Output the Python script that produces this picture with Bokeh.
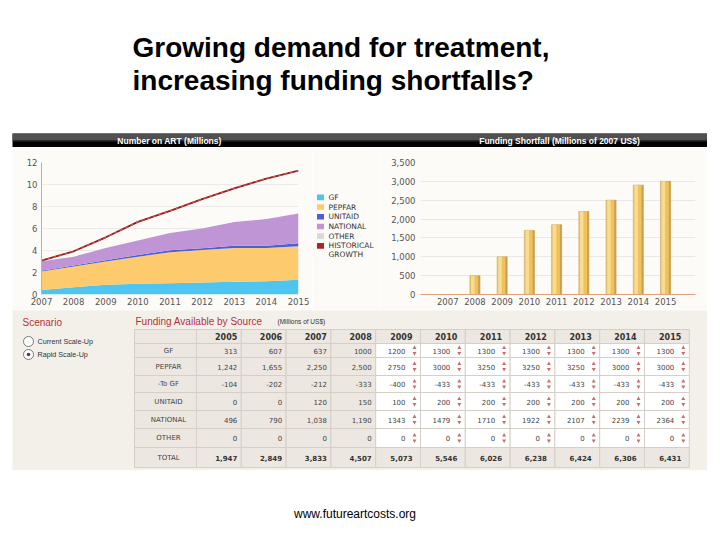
import numpy as np
from bokeh.plotting import figure
from bokeh.layouts import column, row
from bokeh.models import Range1d, FixedTicker, NumeralTickFormatter, Spacer
from bokeh.core.properties import value
from bokeh.embed import file_html
from bokeh.resources import INLINE

# ---------------- data ----------------
title_lines = ["Growing demand for treatment,", "increasing funding shortfalls?"]
art_title = "Number on ART (Millions)"
shortfall_title = "Funding Shortfall (Millions of 2007 US$)"
footer_text = "www.futureartcosts.org"

art_years = [2007, 2008, 2009, 2010, 2011, 2012, 2013, 2014, 2015]
art_gf = [0.42, 0.66, 0.88, 0.97, 1.03, 1.09, 1.15, 1.20, 1.33]
art_pepfar = [1.66, 1.88, 2.12, 2.47, 2.81, 2.96, 3.08, 3.03, 3.05]
art_unitaid = [0.09, 0.09, 0.11, 0.16, 0.18, 0.15, 0.21, 0.21, 0.27]
art_national = [0.85, 0.81, 1.12, 1.30, 1.57, 1.80, 2.16, 2.42, 2.72]
art_other = [0, 0, 0, 0, 0, 0, 0, 0, 0]
art_historical = [3.08, 3.93, 5.20, 6.60, 7.60, 8.67, 9.64, 10.54, 11.27]
art_ticks = [0, 2, 4, 6, 8, 10, 12]

shortfall_years = [2007, 2008, 2009, 2010, 2011, 2012, 2013, 2014, 2015]
shortfall_values = [0, 500, 1000, 1700, 1850, 2200, 2500, 2900, 3000]
shortfall_ticks = [0, 500, 1000, 1500, 2000, 2500, 3000, 3500]

legend_labels = ["GF", "PEPFAR", "UNITAID", "NATIONAL", "OTHER", "HISTORICAL\nGROWTH"]
legend_colors = ["#4ec5f1", "#fdca6d", "#4d5ed8", "#bf95d6", "#d9d9d9", "#a8262a"]

scenario_title = "Scenario"
scenario_options = ["Current Scale-Up", "Rapid Scale-Up"]
scenario_selected = 1

table_title = "Funding Available by Source"
table_units = "(Millions of US$)"
table_years = [2005, 2006, 2007, 2008, 2009, 2010, 2011, 2012, 2013, 2014, 2015]
first_input_year = 2009
table_labels = ["GF", "PEPFAR", "-To GF", "UNITAID", "NATIONAL", "OTHER"]
funds_gf = [313, 607, 637, 1000, 1200, 1300, 1300, 1300, 1300, 1300, 1300]
funds_pepfar = [1242, 1655, 2250, 2500, 2750, 3000, 3250, 3250, 3250, 3000, 3000]
funds_to_gf = [-104, -202, -212, -333, -400, -433, -433, -433, -433, -433, -433]
funds_unitaid = [0, 0, 120, 150, 100, 200, 200, 200, 200, 200, 200]
funds_national = [496, 790, 1038, 1190, 1343, 1479, 1710, 1922, 2107, 2239, 2364]
funds_other = [0, 0, 0, 0, 0, 0, 0, 0, 0, 0, 0]
total_label = "TOTAL"
funds_total = [1947, 2849, 3833, 4507, 5073, 5546, 6026, 6238, 6424, 6306, 6431]
plain_cells = {("GF", 2008)}

# ---------------- styles ----------------
CHART_BG = "#fdfbf8"
SECTION_BG = "#f3efe9"
CELL_BG = "#ece7e0"
CELL_LINE = "#d5cfc7"
RED_TEXT = "#b5333a"
TICK_FONT = "DejaVu Sans"
SANS = "Liberation Sans"


def blank(w, h, bg):
    f = figure(width=w, height=h, x_range=Range1d(0, w), y_range=Range1d(h, 0),
               x_axis_type=None, y_axis_type=None, output_backend="svg",
               toolbar_location=None, min_border=0, outline_line_color=None,
               background_fill_color=bg, border_fill_color=bg)
    f.grid.visible = False
    return f


# ---------------- title ----------------
title_fig = blank(712, 133, "white")
title_fig.text(x=[132, 132], y=[47, 80], text=title_lines, text_font=value(SANS),
               text_font_style="bold", text_font_size="28px", text_color="black",
               text_baseline="alphabetic", text_align="left")

# ---------------- dashboard header bar ----------------
header_fig = blank(695, 14, "black")
header_fig.quad(left=[0], right=[695], top=[0], bottom=[7], fill_color="#505050", line_color=None)
header_fig.quad(left=[0], right=[695], top=[7], bottom=[8], fill_color="#2a2a2a", line_color=None)
header_fig.text(x=[157, 547], y=[7.5, 7.5], text=[art_title, shortfall_title],
                text_font=value(SANS), text_font_style="bold", text_font_size="8.5px",
                text_color="white", text_baseline="middle", text_align="center")


def style_axes(p):
    for ax in p.axis:
        ax.major_label_text_font = TICK_FONT
        ax.major_label_text_font_size = "8.5px"
        ax.major_label_text_color = "#555555"
        ax.major_tick_line_color = None
        ax.minor_tick_line_color = None
        ax.major_tick_out = 0
        ax.major_tick_in = 0


# ---------------- number on ART (stacked areas) ----------------
area = figure(width=300, height=163, x_range=Range1d(2007, 2015), y_range=Range1d(0, 12),
              output_backend="svg", toolbar_location=None,
              min_border_left=29, min_border_right=14, min_border_top=15, min_border_bottom=16,
              background_fill_color=CHART_BG, border_fill_color=CHART_BG, outline_line_color=None)
yrs = np.array(art_years)
gf_top = np.array(art_gf)
pep_top = gf_top + np.array(art_pepfar)
uni_top = pep_top + np.array(art_unitaid)
nat_top = uni_top + np.array(art_national)
oth_top = nat_top + np.array(art_other)
area.varea(x=yrs, y1=np.zeros_like(gf_top), y2=gf_top, fill_color=legend_colors[0])
area.varea(x=yrs, y1=gf_top, y2=pep_top, fill_color=legend_colors[1])
area.varea(x=yrs, y1=pep_top, y2=uni_top, fill_color=legend_colors[2])
area.varea(x=yrs, y1=uni_top, y2=nat_top, fill_color=legend_colors[3])
area.varea(x=yrs, y1=nat_top, y2=oth_top, fill_color=legend_colors[4])
area.line(x=yrs, y=art_historical, line_color="#8e1c1c", line_width=1.8)
area.line(x=yrs, y=art_historical, line_color="#e87070", line_width=0.8, line_dash="3 3")
area.xaxis.ticker = FixedTicker(ticks=art_years)
area.yaxis.ticker = FixedTicker(ticks=art_ticks)
area.xgrid.visible = False
area.ygrid.grid_line_color = "#ebebeb"
area.yaxis.axis_line_color = "#d8ab86"
area.xaxis.axis_line_color = None
style_axes(area)
area.xaxis.major_label_standoff = 3
area.yaxis.major_label_standoff = 4

# ---------------- legend ----------------
legend_fig = blank(68, 163, CHART_BG)
leg_y = [43 + 12 * i for i in range(len(legend_labels))]
legend_fig.rect(x=[8] * len(legend_labels), y=leg_y, width=7, height=7,
                fill_color=legend_colors, line_color=None)
lx, ly, lt = [], [], []
for yy, lab in zip(leg_y, legend_labels):
    for j, part in enumerate(lab.split("\n")):
        lx.append(16)
        ly.append(yy + 11 * j)
        lt.append(part)
legend_fig.text(x=lx, y=ly, text=lt, text_font=value(TICK_FONT), text_font_size="7.5px",
                text_color="#333333", text_baseline="middle", text_align="left")

# ---------------- funding shortfall (bars) ----------------
bar = figure(width=327, height=163, x_range=Range1d(2006.0, 2016.1), y_range=Range1d(0, 3500),
             output_backend="svg", toolbar_location=None,
             min_border_left=40, min_border_right=12, min_border_top=14, min_border_bottom=16,
             background_fill_color=CHART_BG, border_fill_color=CHART_BG, outline_line_color=None)
sx = np.array(shortfall_years, dtype=float)
sv = np.array(shortfall_values, dtype=float)
bar.vbar(x=sx, top=sv, width=0.37, fill_color="#eec25c", line_color="#c7a466", line_width=0.6)
bar.vbar(x=sx - 0.08, top=sv, width=0.13, fill_color="#f8dc92", line_color=None)
bar.vbar(x=sx + 0.15, top=sv, width=0.06, fill_color="#c99d4a", line_color=None)
bar.xaxis.ticker = FixedTicker(ticks=shortfall_years)
bar.yaxis.ticker = FixedTicker(ticks=shortfall_ticks)
bar.yaxis.formatter = NumeralTickFormatter(format="0,0")
bar.xgrid.visible = False
bar.ygrid.grid_line_color = "#e8e8e8"
bar.xaxis.axis_line_color = "#dba27c"
bar.yaxis.axis_line_color = None
style_axes(bar)
bar.xaxis.major_label_standoff = 3
bar.yaxis.major_label_standoff = 5

# ---------------- table section ----------------
TW, TH = 695, 160
tab = blank(TW, TH, SECTION_BG)

# scenario radio
tab.text(x=[10], y=[12], text=[scenario_title], text_font=value(SANS), text_font_size="10px",
         text_color=RED_TEXT, text_baseline="middle", text_align="left")
opt_y = [31 + 13 * i for i in range(len(scenario_options))]
tab.scatter(x=[16] * len(opt_y), y=opt_y, size=10, marker="circle",
            fill_color="white", line_color="#7a7a7a", line_width=1)
tab.scatter(x=[16], y=[opt_y[scenario_selected]], size=3.5, marker="circle",
            fill_color="#444444", line_color=None)
tab.text(x=[25] * len(opt_y), y=opt_y, text=scenario_options, text_font=value(SANS),
         text_font_size="7.2px", text_color="#333333", text_baseline="middle", text_align="left")

tab.text(x=[123], y=[11], text=[table_title], text_font=value(SANS), text_font_size="10px",
         text_color=RED_TEXT, text_baseline="middle", text_align="left")
tab.text(x=[265], y=[10.5], text=[table_units], text_font=value(SANS), text_font_size="6.5px",
         text_color="#333333", text_baseline="middle", text_align="left")

label_left, label_right = 122.0, 184.0
col_w = 44.8
col_l = [label_right + i * col_w for i in range(len(table_years))]
col_r = [c + col_w for c in col_l]
row_edges = [19, 33, 47, 65, 82, 100, 118, 137, 157]
row_c = [(row_edges[i] + row_edges[i + 1]) / 2 for i in range(len(row_edges) - 1)]

data_rows = [funds_gf, funds_pepfar, funds_to_gf, funds_unitaid, funds_national, funds_other]

ql, qr, qt, qb, qf = [], [], [], [], []
for r in range(len(row_edges) - 1):
    ql.append(label_left); qr.append(label_right)
    qt.append(row_edges[r]); qb.append(row_edges[r + 1]); qf.append(CELL_BG)
    for ci, yr in enumerate(table_years):
        is_input = (1 <= r <= len(data_rows)) and yr >= first_input_year
        ql.append(col_l[ci]); qr.append(col_r[ci])
        qt.append(row_edges[r]); qb.append(row_edges[r + 1])
        qf.append("white" if is_input else CELL_BG)
tab.quad(left=ql, right=qr, top=qt, bottom=qb, fill_color=qf, line_color=CELL_LINE, line_width=1)

# header years
hx = [col_r[i] - (4 if y < first_input_year else 8) for i, y in enumerate(table_years)]
tab.text(x=hx, y=[row_c[0]] * len(table_years), text=[str(y) for y in table_years],
         text_font=value(TICK_FONT), text_font_style="bold", text_font_size="8px",
         text_color="#333333", text_baseline="middle", text_align="right")

# row labels
all_labels = table_labels + [total_label]
tab.text(x=[(label_left + label_right) / 2 + 3] * len(all_labels), y=row_c[1:],
         text=all_labels, text_font=value(TICK_FONT), text_font_size="7px",
         text_color="#444444", text_baseline="middle", text_align="center")

vx, vy, vt, sx_, sy_ = [], [], [], [], []
for r, (lab, vals) in enumerate(zip(table_labels, data_rows)):
    for ci, yr in enumerate(table_years):
        v = vals[ci]
        if yr >= first_input_year:
            vx.append(col_r[ci] - 15)
            vt.append(str(v))
            sx_.append(col_r[ci] - 6)
            sy_.append(row_c[r + 1])
        else:
            vx.append(col_r[ci] - 4)
            vt.append(str(v) if (lab, yr) in plain_cells else f"{v:,}")
        vy.append(row_c[r + 1])
tab.text(x=vx, y=vy, text=vt, text_font=value(TICK_FONT), text_font_size="7px",
         text_color="#444444", text_baseline="middle", text_align="right")
tab.scatter(x=sx_, y=[y - 2.6 for y in sy_], size=4, marker="triangle",
            fill_color="#cf6b6b", line_color=None)
tab.scatter(x=sx_, y=[y + 2.6 for y in sy_], size=4, marker="inverted_triangle",
            fill_color="#cf6b6b", line_color=None)

# totals
tx = [col_r[i] - (4 if y < first_input_year else 8) for i, y in enumerate(table_years)]
tab.text(x=tx, y=[row_c[-1]] * len(table_years), text=[f"{v:,}" for v in funds_total],
         text_font=value(TICK_FONT), text_font_style="bold", text_font_size="7px",
         text_color="#333333", text_baseline="middle", text_align="right")

# ---------------- footer ----------------
footer_fig = blank(712, 62, "white")
footer_fig.text(x=[354.5], y=[43], text=[footer_text], text_font=value(SANS),
                text_font_size="12px", text_color="black", text_baseline="alphabetic",
                text_align="center")

layout = column(
    title_fig,
    row(Spacer(width=12, height=14), header_fig, spacing=0),
    row(Spacer(width=12, height=163), area, legend_fig, bar, spacing=0),
    row(Spacer(width=12, height=160), tab, spacing=0),
    footer_fig,
    spacing=0,
)

open("out.html", "w").write(file_html(layout, INLINE))
